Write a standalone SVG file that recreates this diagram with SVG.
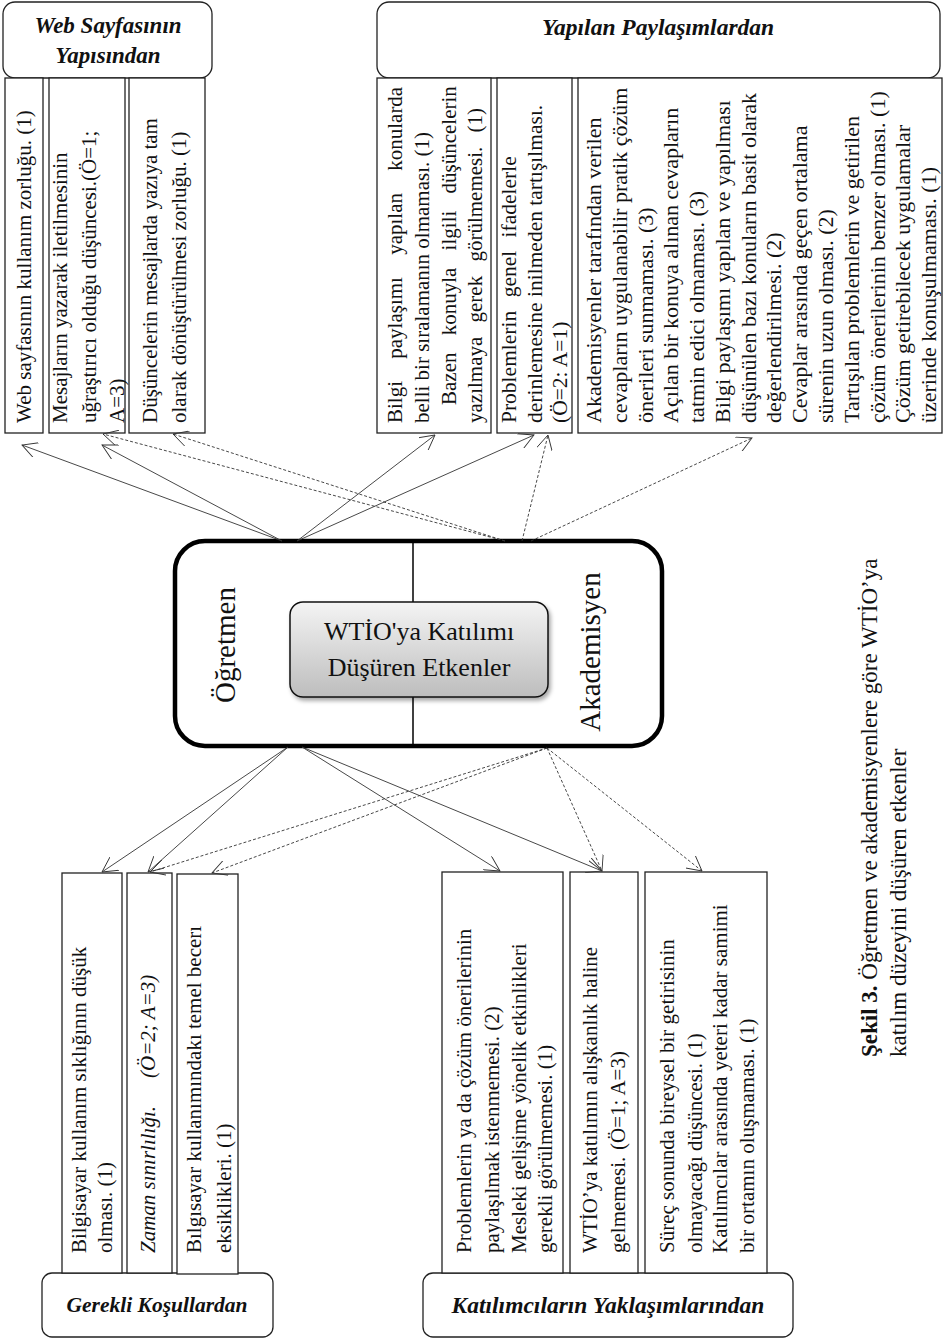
<svg xmlns="http://www.w3.org/2000/svg" width="944" height="1339" viewBox="0 0 944 1339">
<style>
.box{fill:#fff;stroke:#222;stroke-width:1.3}
.hdr{fill:#fff;stroke:#222;stroke-width:1.3}
.t{font-family:"Liberation Serif","Times New Roman",serif;font-size:21px;fill:#111}
.h{font-family:"Liberation Serif","Times New Roman",serif;font-size:22px;font-weight:bold;font-style:italic;text-anchor:middle;fill:#111}
.c{stroke:#333;stroke-width:0.9;fill:none;marker-end:url(#arr)}
.d{stroke-dasharray:3 2}
.big{font-family:"Liberation Serif","Times New Roman",serif;font-size:29px;fill:#111}
.mid{font-family:"Liberation Serif","Times New Roman",serif;font-size:26px;fill:#111;text-anchor:middle}
.cap{font-family:"Liberation Serif","Times New Roman",serif;font-size:23px;fill:#111}
</style>
<defs>
<marker id="arr" markerUnits="userSpaceOnUse" markerWidth="20" markerHeight="16" viewBox="0 0 20 16" refX="15" refY="8" orient="auto">
<path d="M0,0 L15,8 L0,16" fill="none" stroke="#333" stroke-width="0.9"/>
</marker>
<linearGradient id="g" x1="0" y1="0" x2="0" y2="1">
<stop offset="0" stop-color="#f4f4f4"/>
<stop offset="1" stop-color="#bdbdbd"/>
</linearGradient>
<filter id="sh" x="-10%" y="-10%" width="130%" height="140%">
<feDropShadow dx="2" dy="3" stdDeviation="2" flood-color="#000" flood-opacity="0.35"/>
</filter>
</defs>
<rect width="944" height="1339" fill="#fff"/>

<g id="web-header">
<rect class="hdr" x="3" y="2" width="209" height="76" rx="12"/>
<text class="h" x="108" y="33" style="font-size:23px">Web Sayfasının</text>
<text class="h" x="108" y="63" style="font-size:23px">Yapısından</text>
</g>
<g id="web-1">
<rect class="box" x="5" y="78" width="38" height="355"/>
<text class="t" transform="translate(31,423) rotate(-90)">Web sayfasının kullanım zorluğu. (1)</text>
</g>
<g id="web-2">
<rect class="box" x="49" y="78" width="76" height="355"/>
<text class="t" transform="translate(67,423) rotate(-90)"><tspan x="0" y="0">Mesajların yazarak iletilmesinin</tspan><tspan x="0" y="29">uğraştırıcı olduğu düşüncesi.(Ö=1;</tspan><tspan x="0" y="57">A=3)</tspan></text>
</g>
<g id="web-3">
<rect class="box" x="129" y="78" width="76" height="355"/>
<text class="t" transform="translate(157,423) rotate(-90)"><tspan x="0" y="0">Düşüncelerin mesajlarda yazıya tam</tspan><tspan x="0" y="29">olarak dönüştürülmesi zorluğu. (1)</tspan></text>
</g>

<g id="pay-header">
<rect class="hdr" x="377" y="2" width="563" height="76" rx="12"/>
<text class="h" x="658" y="35" style="font-size:23.5px">Yapılan Paylaşımlardan</text>
</g>
<g id="pay-1">
<rect class="box" x="377" y="78" width="114" height="355"/>
<text class="t" transform="translate(402,423) rotate(-90)"><tspan x="0" y="0" word-spacing="17">Bilgi paylaşımı yapılan konularda</tspan><tspan x="0" y="27">belli bir sıralamanın olmaması. (1)</tspan><tspan x="18" y="54" word-spacing="12">Bazen konuyla ilgili düşüncelerin</tspan><tspan x="0" y="80" word-spacing="9">yazılmaya gerek görülmemesi. (1)</tspan></text>
</g>
<g id="pay-2">
<rect class="box" x="497" y="78" width="75" height="355"/>
<text class="t" transform="translate(516,423) rotate(-90)" style="font-size:21.5px"><tspan x="0" y="0" word-spacing="8">Problemlerin genel ifadelerle</tspan><tspan x="0" y="26">derinlemesine inilmeden tartışılması.</tspan><tspan x="0" y="51">(Ö=2: A=1)</tspan></text>
</g>
<g id="pay-3">
<rect class="box" x="578" y="78" width="364" height="355"/>
<text class="t" transform="translate(601,423) rotate(-90)" style="font-size:22px"><tspan x="0" y="0">Akademisyenler tarafından verilen</tspan><tspan x="0" y="25.8">cevapların uygulanabilir pratik çözüm</tspan><tspan x="0" y="51.5">önerileri sunmaması. (3)</tspan><tspan x="0" y="77.3">Açılan bir konuya alınan cevapların</tspan><tspan x="0" y="103.1">tatmin edici olmaması. (3)</tspan><tspan x="0" y="128.8">Bilgi paylaşımı yapılan ve yapılması</tspan><tspan x="0" y="154.6">düşünülen bazı konuların basit olarak</tspan><tspan x="0" y="180.4">değerlendirilmesi. (2)</tspan><tspan x="0" y="206.2">Cevaplar arasında geçen ortalama</tspan><tspan x="0" y="231.9">sürenin uzun olması. (2)</tspan><tspan x="0" y="257.7">Tartışılan problemlerin ve getirilen</tspan><tspan x="0" y="283.5">çözüm önerilerinin benzer olması. (1)</tspan><tspan x="0" y="309.2">Çözüm getirebilecek uygulamalar</tspan><tspan x="0" y="335">üzerinde konuşulmaması. (1)</tspan></text>
</g>

<g id="center">
<rect x="175" y="541" width="487" height="205" rx="30" fill="#fff" stroke="#000" stroke-width="4.5"/>
<line x1="413" y1="541" x2="413" y2="746" stroke="#000" stroke-width="1.5"/>
<rect x="290" y="602" width="258" height="95" rx="13" fill="url(#g)" stroke="#111" stroke-width="1.5" filter="url(#sh)"/>
<text class="mid" x="419" y="640">WTİO'ya Katılımı</text>
<text class="mid" x="419" y="676">Düşüren Etkenler</text>
<text class="big" transform="translate(235,645) rotate(-90)" text-anchor="middle">Öğretmen</text>
<text class="big" transform="translate(600,652) rotate(-90)" text-anchor="middle">Akademisyen</text>
</g>

<g id="ger-header">
<rect class="hdr" x="42" y="1273" width="231" height="64" rx="10"/>
<text class="h" x="157" y="1312" style="font-size:21.5px">Gerekli Koşullardan</text>
</g>
<g id="ger-1">
<rect class="box" x="62" y="873" width="60" height="400"/>
<text class="t" transform="translate(86,1253) rotate(-90)"><tspan x="0" y="0">Bilgisayar kullanım sıklığının düşük</tspan><tspan x="0" y="26">olması. (1)</tspan></text>
</g>
<g id="ger-2">
<rect class="box" x="127" y="873" width="45" height="400"/>
<text class="t" transform="translate(155,1253) rotate(-90)" font-style="italic"><tspan x="0" y="0">Zaman sınırlılığı.</tspan><tspan x="175" y="0">(Ö=2; A=3)</tspan></text>
</g>
<g id="ger-3">
<rect class="box" x="177" y="874" width="61" height="400"/>
<text class="t" transform="translate(201,1253) rotate(-90)"><tspan x="0" y="0">Bılgısayar kullanımındakı temel becerı</tspan><tspan x="0" y="30">eksiklikleri. (1)</tspan></text>
</g>

<g id="kat-header">
<rect class="hdr" x="423" y="1273" width="370" height="64" rx="10"/>
<text class="h" x="608" y="1313" style="font-size:23.5px">Katılımcıların Yaklaşımlarından</text>
</g>
<g id="kat-1">
<rect class="box" x="442" y="872" width="121" height="401"/>
<text class="t" transform="translate(471,1253) rotate(-90)"><tspan x="0" y="0">Problemlerin ya da çözüm önerilerinin</tspan><tspan x="0" y="28">paylaşılmak istenmemesi. (2)</tspan><tspan x="0" y="55">Mesleki gelişime yönelik etkinlikleri</tspan><tspan x="0" y="81">gerekli görülmemesi. (1)</tspan></text>
</g>
<g id="kat-2">
<rect class="box" x="570" y="872" width="68" height="401"/>
<text class="t" transform="translate(597,1253) rotate(-90)"><tspan x="0" y="0">WTİO’ya katılımın alışkanlık haline</tspan><tspan x="0" y="28">gelmemesi.</tspan><tspan x="103" y="28">(Ö=1; A=3)</tspan></text>
</g>
<g id="kat-3">
<rect class="box" x="645" y="872" width="122" height="401"/>
<text class="t" transform="translate(674,1253) rotate(-90)"><tspan x="0" y="0">Süreç sonunda bireysel bir getirisinin</tspan><tspan x="0" y="28">olmayacağı düşüncesi. (1)</tspan><tspan x="0" y="53">Katılımcılar arasında yeteri kadar samimi</tspan><tspan x="0" y="80">bir ortamın oluşmaması. (1)</tspan></text>
</g>

<g id="caption">
<text class="cap" transform="translate(877,1057) rotate(-90)"><tspan x="0" y="0"><tspan font-weight="bold">Şekil 3.</tspan> Öğretmen ve akademisyenlere göre WTİO’ya</tspan><tspan x="0" y="29">katılım düzeyini düşüren etkenler</tspan></text>
</g>

<g id="connectors">
<line class="c" x1="282" y1="541" x2="22" y2="445"/>
<line class="c" x1="282" y1="541" x2="102" y2="445"/>
<line class="c" x1="297" y1="541" x2="435" y2="435"/>
<line class="c" x1="297" y1="541" x2="534" y2="435"/>
<line class="c d" x1="505" y1="541" x2="103" y2="434"/>
<line class="c d" x1="505" y1="541" x2="173" y2="434"/>
<line class="c d" x1="522" y1="541" x2="548" y2="435"/>
<line class="c d" x1="531" y1="541" x2="752" y2="438"/>
<line class="c" x1="288" y1="747" x2="102" y2="872"/>
<line class="c" x1="288" y1="747" x2="148" y2="872"/>
<line class="c" x1="302" y1="747" x2="500" y2="871"/>
<line class="c" x1="302" y1="747" x2="602" y2="871"/>
<line class="c d" x1="547" y1="748" x2="150" y2="872"/>
<line class="c d" x1="547" y1="748" x2="212" y2="873"/>
<line class="c d" x1="547" y1="748" x2="602" y2="871"/>
<line class="c d" x1="547" y1="748" x2="702" y2="871"/>
</g>
</svg>
